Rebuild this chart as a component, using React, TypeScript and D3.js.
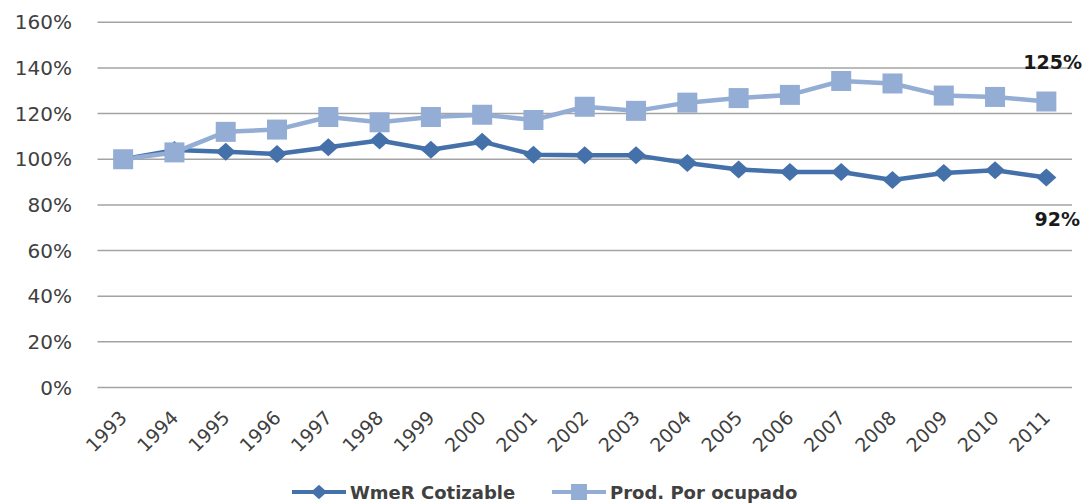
import React from "react";
import * as d3 from "d3";

const years = ["1993","1994","1995","1996","1997","1998","1999","2000","2001","2002","2003","2004","2005","2006","2007","2008","2009","2010","2011"];
const wmerCotizable = [1.0, 1.04, 1.033, 1.023, 1.053, 1.082, 1.042, 1.077, 1.02, 1.018, 1.017, 0.984, 0.955, 0.944, 0.944, 0.909, 0.94, 0.952, 0.92];
const prodPorOcupado = [1.0, 1.03, 1.12, 1.13, 1.185, 1.162, 1.185, 1.195, 1.172, 1.23, 1.212, 1.248, 1.268, 1.282, 1.343, 1.332, 1.279, 1.273, 1.253];
const yTicks = [0, 0.2, 0.4, 0.6, 0.8, 1.0, 1.2, 1.4, 1.6];
const seriesNames = ["WmeR Cotizable", "Prod. Por ocupado"];
const endLabels = ["125%", "92%"];

const W = 1086, H = 504;
const DARK = "#4571aa";
const LIGHT = "#93add4";

export default function App() {
  const x = d3.scaleBand<string>().domain(years).range([97.5, 1072]);
  const cx = (d: string) => (x(d) as number) + x.bandwidth() / 2;
  const y = d3.scaleLinear().domain([0, 1.6]).range([387.5, 22.3]);
  const line = d3.line<number>().x((_, i) => cx(years[i])).y((v) => y(v));
  const fmt = d3.format(".0%");
  const tickFont = "'DejaVu Sans', sans-serif";

  const diamond = (px: number, py: number) =>
    `M${px},${py - 9}L${px + 10},${py}L${px},${py + 9}L${px - 10},${py}Z`;

  const last = years.length - 1;

  return (
    <svg width={W} height={H} style={{ position: "absolute", left: 0, top: 0, background: "#fff" }}>
      {/* gridlines */}
      {yTicks.map((t) => (
        <line key={t} x1={97.5} x2={1072} y1={y(t)} y2={y(t)} stroke="#a3a3a3" strokeWidth={1.5} />
      ))}
      {/* y tick labels */}
      {yTicks.map((t) => (
        <text key={"l" + t} x={72} y={y(t) + 7} textAnchor="end" fontFamily={tickFont} fontSize={20} fill="#404040">
          {fmt(t)}
        </text>
      ))}
      {/* x tick labels */}
      {years.map((yr) => (
        <text
          key={yr}
          transform={`translate(${cx(yr) + 5},${419}) rotate(-45)`}
          textAnchor="end"
          fontFamily={tickFont}
          fontSize={19}
          fill="#404040"
        >
          {yr}
        </text>
      ))}
      {/* WmeR series */}
      <path d={line(wmerCotizable) || ""} fill="none" stroke={DARK} strokeWidth={4.5} strokeLinejoin="round" />
      {wmerCotizable.map((v, i) => (
        <path key={"d" + i} d={diamond(cx(years[i]), y(v))} fill={DARK} />
      ))}
      {/* Prod series */}
      <path d={line(prodPorOcupado) || ""} fill="none" stroke={LIGHT} strokeWidth={4.5} strokeLinejoin="round" />
      {prodPorOcupado.map((v, i) => (
        <rect key={"s" + i} x={cx(years[i]) - 10} y={y(v) - 10} width={20} height={20} fill={LIGHT} />
      ))}
      {/* end labels */}
      <text x={1082} y={y(prodPorOcupado[last]) - 33} textAnchor="end" fontFamily={tickFont} fontWeight="bold" fontSize={19} fill="#1a1a1a">
        {endLabels[0]}
      </text>
      <text x={1080} y={y(wmerCotizable[last]) + 48} textAnchor="end" fontFamily={tickFont} fontWeight="bold" fontSize={19} fill="#1a1a1a">
        {endLabels[1]}
      </text>
      {/* legend */}
      <g>
        <line x1={292} x2={346} y1={492} y2={492} stroke={DARK} strokeWidth={4} />
        <path d={diamond(319, 492)} fill={DARK} transform="translate(319,492) scale(0.8) translate(-319,-492)" />
        <text x={350} y={499} fontFamily={tickFont} fontWeight="bold" fontSize={18} fill="#404040">
          {seriesNames[0]}
        </text>
        <line x1={552} x2={606} y1={492} y2={492} stroke={LIGHT} strokeWidth={4} />
        <rect x={571} y={484} width={16} height={16} fill={LIGHT} />
        <text x={610} y={499} fontFamily={tickFont} fontWeight="bold" fontSize={18} fill="#404040">
          {seriesNames[1]}
        </text>
      </g>
    </svg>
  );
}
